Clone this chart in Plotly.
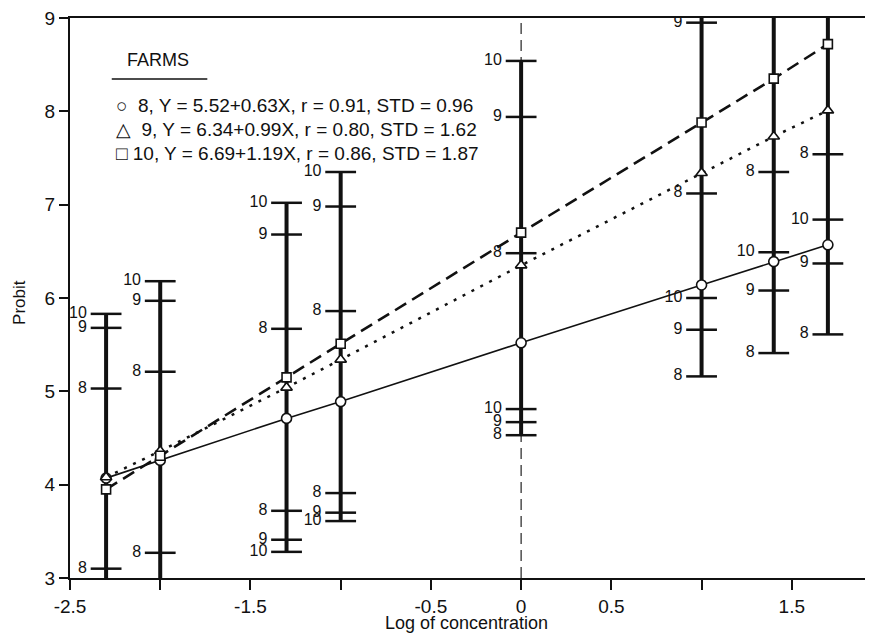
import plotly.graph_objects as go

# ---- data ----
log_conc = [-2.3, -2.0, -1.3, -1.0, 0.0, 1.0, 1.4, 1.7]

farm8_probit = [4.07, 4.26, 4.71, 4.89, 5.52, 6.14, 6.39, 6.57]
farm9_probit = [4.08, 4.36, 5.04, 5.34, 6.35, 7.34, 7.73, 8.01]
farm10_probit = [3.95, 4.31, 5.15, 5.51, 6.70, 7.88, 8.35, 8.72]

farm8_upper = [5.03, 5.21, 5.67, 5.86, 6.48, 7.12, 7.35, 7.54]
farm8_lower = [3.10, 3.27, 3.72, 3.91, 4.53, 5.16, 5.41, 5.61]
farm9_upper = [5.68, 5.97, 6.68, 6.98, 7.94, 8.95, 9.38, 9.67]
farm9_lower = [2.44, 2.75, 3.41, 3.70, 4.67, 5.66, 6.08, 6.37]
farm10_upper = [5.83, 6.18, 7.02, 7.35, 8.54, 9.76, 10.23, 10.58]
farm10_lower = [2.07, 2.44, 3.28, 3.61, 4.81, 6.00, 6.49, 6.84]

farm_names = ["8", "9", "10"]
legend_lines = [
    "○  8, Y = 5.52+0.63X, r = 0.91, STD = 0.96",
    "△  9, Y = 6.34+0.99X, r = 0.80, STD = 1.62",
    "□ 10, Y = 6.69+1.19X, r = 0.86, STD = 1.87",
]

x_range = [-2.5, 1.95]
y_range = [3, 9]
x_tickvals = [-2.5, -2.0, -1.5, -1.0, -0.5, 0.0, 0.5, 1.0, 1.5]
x_ticktext = ["-2.5", "", "-1.5", "", "-0.5", "0", "0.5", "", "1.5"]
y_tickvals = [3, 4, 5, 6, 7, 8, 9]

FONT = "Liberation Sans, Arial, Helvetica, sans-serif"
fig = go.Figure()

# vertical confidence bars
uppers = [farm8_upper, farm9_upper, farm10_upper]
lowers = [farm8_lower, farm9_lower, farm10_lower]
bx, by = [], []
for i, x in enumerate(log_conc):
    lo = min(l[i] for l in lowers)
    hi = max(u[i] for u in uppers)
    bx += [x, x, None]
    by += [lo, hi, None]
fig.add_trace(go.Scatter(x=bx, y=by, mode="lines",
                         line=dict(color="#111", width=4), hoverinfo="skip"))

# limit ticks with farm labels (only those inside the visible range)
tx, ty, tt = [], [], []
for name, up, lo in zip(farm_names, uppers, lowers):
    for i, x in enumerate(log_conc):
        for v in (up[i], lo[i]):
            if y_range[0] <= v <= y_range[1]:
                tx.append(x)
                ty.append(v)
                tt.append(name + " ")
fig.add_trace(go.Scatter(
    x=tx, y=ty, text=tt, mode="markers+text", textposition="middle left",
    textfont=dict(family=FONT, size=16, color="#111"),
    marker=dict(symbol="line-ew", size=22, line=dict(color="#111", width=2.5)),
    hoverinfo="skip"))

# regression lines with markers
fig.add_trace(go.Scatter(
    x=log_conc, y=farm8_probit, mode="lines+markers",
    line=dict(color="#111", width=1.6),
    marker=dict(symbol="circle", size=10, color="white",
                line=dict(color="#111", width=1.6))))
fig.add_trace(go.Scatter(
    x=log_conc, y=farm9_probit, mode="lines+markers",
    line=dict(color="#111", width=2.5, dash="3px,7px"),
    marker=dict(symbol="triangle-up", size=10, color="white",
                line=dict(color="#111", width=1.6))))
fig.add_trace(go.Scatter(
    x=log_conc, y=farm10_probit, mode="lines+markers",
    line=dict(color="#111", width=2.6, dash="13px,7px"),
    marker=dict(symbol="square", size=9, color="white",
                line=dict(color="#111", width=1.6))))

# dashed reference line at log concentration 0
fig.add_shape(type="line", xref="x", yref="paper", x0=0, x1=0, y0=0, y1=1,
              line=dict(color="#222", width=1.2, dash="11px,6px"), layer="below")

# legend block
fig.add_annotation(xref="paper", yref="paper", x=0.109, y=0.925, text="FARMS",
                   showarrow=False, xanchor="center", yanchor="middle",
                   font=dict(family=FONT, size=18, color="#111"))
fig.add_shape(type="line", xref="paper", yref="paper", x0=0.052, x1=0.171,
              y0=0.891, y1=0.891, line=dict(color="#111", width=1.5))
for txt, yy in zip(legend_lines, [0.843, 0.801, 0.758]):
    fig.add_annotation(xref="paper", yref="paper", x=0.055, y=yy, text=txt,
                       showarrow=False, xanchor="left", yanchor="middle",
                       font=dict(family=FONT, size=19, color="#111"))

# axis titles
fig.add_annotation(xref="paper", yref="paper", x=0.494, y=-0.080,
                   text="Log of concentration", showarrow=False,
                   xanchor="center", yanchor="middle",
                   font=dict(family=FONT, size=18, color="#111"))
fig.add_annotation(xref="paper", yref="paper", x=-0.0623, y=0.493,
                   text="Probit", showarrow=False, textangle=-90,
                   xanchor="center", yanchor="middle",
                   font=dict(family=FONT, size=17, color="#111"))

# the page body has a default 8px margin, so the figure is sized to fit
fig.update_layout(
    width=865, height=630,
    margin=dict(l=62, r=0, t=10, b=60),
    paper_bgcolor="white", plot_bgcolor="white",
    showlegend=False,
    font=dict(family=FONT, color="#111"),
    xaxis=dict(range=x_range, tickvals=x_tickvals, ticktext=x_ticktext,
               showline=True, linecolor="#111", linewidth=2, mirror=True,
               ticks="outside", ticklen=10, tickwidth=2, tickcolor="#111",
               showgrid=False, zeroline=False,
               tickfont=dict(family=FONT, size=19, color="#111")),
    yaxis=dict(range=y_range, tickvals=y_tickvals,
               showline=True, linecolor="#111", linewidth=2,
               ticks="outside", ticklen=9, tickwidth=2, tickcolor="#111",
               showgrid=False, zeroline=False, ticklabeloverflow="allow",
               tickfont=dict(family=FONT, size=19, color="#111")),
)

fig.write_html("out.html")
